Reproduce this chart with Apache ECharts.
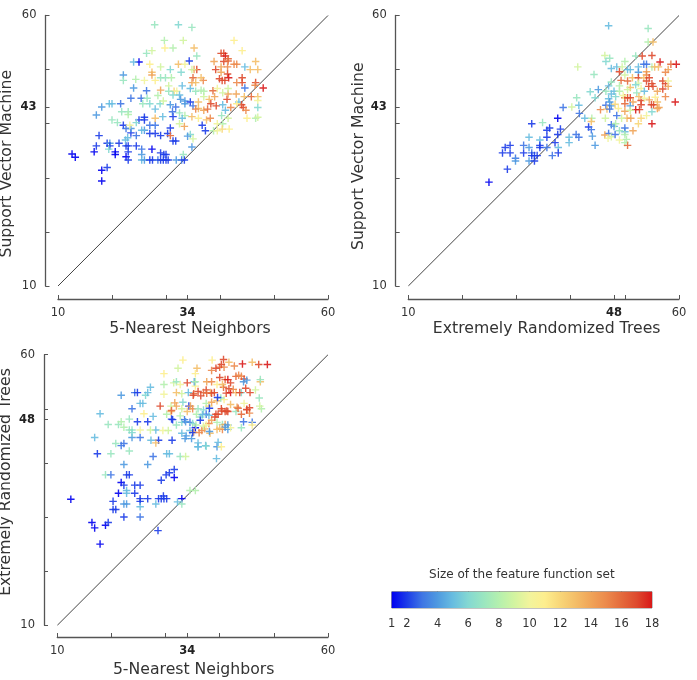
<!DOCTYPE html>
<html>
<head>
<meta charset="utf-8">
<style>html,body{margin:0;padding:0;background:#fff}#chart{width:697px;height:680px}</style>
<script src="https://cdn.jsdelivr.net/npm/echarts@6/dist/echarts.min.js"></script>
</head>
<body>
<div id="chart"></div>
<script>
// Each run: [first classifier score, second classifier score, feature set size]
const knnVsSvm = [
[12.6,34.4,1],[13.2,33.8,1],[16.7,34.8,1],[17.1,35.9,2],[17.6,37.8,2],[18.1,31.4,1],[19.1,31.9,2],[18.1,29.4,1],
[19.1,36.4,2],[19.6,36.4,4],[19.6,35.9,2],[20.6,34.8,1],[20.6,34.3,1],[19.4,35.3,6],[21.3,36.4,2],[22.6,35.9,2],[23,35.9,2],[23,34.8,2],
[22.6,33.9,1],[23,33.3,2],[24.5,35.9,2],[25.5,35.3,3],[25.5,34.3,4],[23.5,38.3,2],[24.5,37.8,3],[22.1,39.7,2],[22.6,39.1,3],[23.5,39.1,4],
[25,40.7,2],[26,41.2,2],[26,40.7,2],[27,39.7,3],[28,39.7,3],[27,38.2,2],[28,38.2,2],[29,37.8,2],[26,38.8,4],[25.5,38.8,5],[27.4,35.3,1],
[29,34.6,2],[29.6,34.3,2],[30,34.3,2],[25.5,33.3,5],[26,33.3,4],[27,33.3,2],[27.5,33.3,2],[28.5,33.3,3],[29,33.3,2],[29.5,33.3,2],[30,33.3,2],[30.4,33.3,2],
[31.9,33.3,4],[32.9,33.3,3],[33.4,33.3,2],[30.3,38.2,2],[30.8,39.2,2],[31.3,36.8,2],[31.8,36.8,2],[31.3,41.3,2],[31.2,42.2,3],[31.8,43.1,3],
[23.5,44.7,3],[25.4,44.7,3],[21.6,43.7,3],[25,51.4,1],[34.3,51.6,2],[37.3,38.7,2],[36.7,39.7,2],[44.6,46.6,3],[24,51.4,5],[22.1,49,4],[22.1,48,7],
[24,46.6,4],[26.4,46.1,3],[18.1,43.1,4],[17.1,41.6,4],[19.5,43.7,5],[20,43.7,5],[20,40.7,7],[21,40.2,7],[21.8,42.2,7],[23,42.2,7],[23,41.7,8],[24.5,40.2,6],
[23.3,39.7,10],[22.5,37,5],[22.9,37.4,5],[29.4,41.3,5],[28,42.7,5],[28.9,43.7,6],[27,43.7,6],[26.5,44.7,7],[25.7,43.7,7],[28.5,45.2,8],[29.5,44.2,9],
[27.9,58.3,7],[32.3,58.3,6],[34.8,57.8,7],[29.7,55.4,8],[33.2,55.4,9],[42.6,55.4,11],[29.8,54,11],[31.3,54,8],[35.2,54,13],[26.4,53,7],[27.4,53.5,9],[44.1,53.5,11],
[35.7,52.5,7],[40.2,53,17],[40.7,53,17],[41,52.5,18],[41.5,52,16],[40.7,51.5,17],[41.5,51.6,16],[38.9,51.5,14],[42.6,51,15],[43.1,51,15],[46.6,51.5,13],[44.6,50.5,5],
[45.6,50,13],[47,50,13],[39.2,50,17],[40.2,50.5,14],[41.4,50.5,15],[40.2,49.5,14],[41.4,49.2,17],[39.9,48.3,17],[40.4,48,17],[41.6,48.5,18],[40.9,48,17],[44.1,48.5,17],
[44.1,47.6,17],[43.1,47.6,15],[46.6,47.6,17],[46.5,47.1,15],[48,46.6,18],[38.7,46.1,16],[35.7,50,17],[35.2,50,14],[35,48.5,16],[36.9,48,15],[34.8,47.6,14],[35.5,47.6,13],
[36.5,48.5,13],[32.3,51,13],[27.4,49.5,13],[27.4,49,14],[30.8,50,6],[32.8,49.5,6],[29,48.5,7],[29.9,48.5,7],[31,48.5,8],[33.5,51,10],[34.8,50,9],[29,50.5,9],[27,51,11],
[24.4,48.2,8],[26,48,10],[28,48,11],[30.5,47,9],[31.5,46,12],[29,46.2,14],[30.5,46,7],[32,46,10],[33,47,5],[34.5,46.5,5],[35.5,46,7],[36.5,46.2,8],[32.5,45.3,5],[33.5,44.2,4],
[32.7,44.5,4],[33.5,43.7,4],[34.5,44,2],[35,43.3,3],[36,42.8,13],[35.5,42.7,15],[37,42.5,14],[37.7,42.7,16],[38.3,43.7,17],[39.3,43.3,17],[40.5,43.5,5],[41.3,44.5,17],[41.5,45.5,14],
[42,43,15],[43,45.5,14],[44.5,45,13],[43.5,44,5],[44,43.5,17],[44.3,43,17],[44.8,42.5,15],[45.8,45,16],[47,45,13],[47,44.3,10],[47,43,6],[46.6,41,8],[47,41.2,9],[40.3,41.5,7],[41.5,41,9],
[39.5,40,10],[40.5,40,8],[37.5,40.7,13],[38.2,41,15],[36,41,11],[34.8,41.3,13],[33.5,41.5,8],[33,41,5],[33.4,39.5,14],[32.5,40,9],[30.8,37.8,16],[34.5,38,6],[34,37.7,4],[35,37.2,9],
[34.8,35.7,4],[33.2,34.3,7],[37,45,9],[38,44.5,13],[39,45,14],[37,46,8],[39.5,46.5,10],[40.5,45.7,9],[41.5,46.5,9],[43.1,43.7,11],[41.7,39,11],[38.8,38.7,8],[39.5,38.7,10],
[40.4,39,12],[45,41,11],[30.8,43.5,4],[31.3,45.3,6],[28,41,13],[32.5,42,7],[36,44,13],[41,42.5,5]
];

const ertVsSvm = [
[24.9,29.2,1],[28.3,31.6,2],[27.4,34.6,2],[27.9,35.6,2],[28.8,36,2],[28.8,34.6,2],[29.8,33.6,3],[29.8,33.1,4],[31.3,36,3],[31.3,34.6,2],[32.3,35.6,4],[32.3,37.5,5],[32.3,33.1,4],
[32.8,40,2],[32.8,34.6,3],[32.8,34.1,2],[33.3,34.1,2],[33.8,34.1,2],[33.3,33.1,2],[34.3,37,5],[34.3,36,2],[34.3,35.6,2],[34.8,40.2,7],[35.6,37.5,2],[35.6,35.6,3],[35.6,38.8,2],
[36.1,39.2,2],[36.6,34.1,3],[37.1,36.5,2],[37.6,41,1],[37.6,38,2],[37.7,35.6,5],[37.7,34.6,2],[38.1,39,2],[38.6,43,3],[39.7,37.5,5],[39.7,36.5,5],[41,38,3],[41.5,37.5,3],
[41.1,44.8,7],[40.2,43.1,9],[41.5,43.4,5],[41.6,41.9,3],[42.6,41,5],[43.6,45.9,6],[45.1,46.3,4],[43.3,39.4,2],[43.8,38.9,3],[44,37.7,4],[44.5,36,4],[43.9,41,8],[43.8,40.4,13],
[44.5,44.8,6],[44.3,49.1,7],[41.3,50.5,9],[47,58.1,5],[54.3,57.6,7],[54.3,55.1,8],[55.2,55.1,13],[46.3,52.6,9],[46.5,51.5,6],[47.2,52.1,7],[50,51.5,8],[52,52.5,7],[53.2,52.5,17],
[55,52.6,17],[55,50.5,8],[56.5,51.4,18],[55.5,50.5,13],[56.2,50.5,13],[58.5,51,16],[59.5,51,18],[58,50,14],[57.5,49.5,15],[47.5,50.2,5],[48.5,50.5,5],[49.5,50.5,9],[50.5,50,5],[51,50,5],
[52.5,50.5,5],[53.5,51,3],[54,51,3],[49,49.6,17],[50,49,9],[52.5,49.5,4],[54,49.6,14],[54,49,15],[50.5,47.9,16],[49.3,48,16],[51.4,48.5,13],[52.5,48.5,17],[53.5,48.5,13],
[54,47.9,17],[54.5,48.5,17],[55,47.4,17],[55.2,46.9,17],[54.4,46.9,17],[57,47.9,17],[57.5,47.4,17],[57,46.4,17],[58,46.9,14],[56,46,14],[58,47.9,10],[52.5,47.5,9],[53,46.5,10],
[53.6,46,5],[51,46.7,13],[49,47,8],[47,47,5],[46.5,46,7],[48,46,5],[47.5,45.5,5],[47,44.6,5],[48.3,45,6],[50,44.8,16],[50.5,44.8,17],[51,44.8,17],[50,43.7,16],[51.5,44,14],
[52.2,45.7,7],[52.6,45,13],[53,44.3,17],[53,43.5,17],[52.7,42.6,17],[52,42.6,18],[54.9,43.5,17],[55.3,43.5,17],[54.5,44.4,14],[56.3,43,14],[57.5,45,15],[59.3,44,18],[47.2,44,4],
[46.5,43.4,3],[47.5,43.3,4],[45.5,42.6,15],[46.7,42.7,13],[47.2,42.7,3],[48.2,43.6,12],[48.8,42.8,11],[50,42.3,14],[51,43.3,4],[50.4,41,13],[51.1,41,14],[48.5,41.5,3],[49.4,41,9],
[47.5,39.8,3],[48,39.5,4],[50,38.5,5],[50,39.2,3],[49,38.7,7],[47,38.2,3],[47.5,37.6,9],[48.2,38,3],[49,37,10],[50,36.5,8],[50.5,36,16],[51.5,38.7,14],[52.5,40,12],[50,38,8],[50.3,37.1,8],
[46.3,37.9,14],[46.9,37.3,10],[55,40,18],[47.5,47.7,7],[49,46,8],[49.7,45.2,10],[50.5,46.3,9],[52,47.2,6],[55.6,44.9,11],[56,44,13],[53.6,44.7,10],[55,42.2,6],[46.4,41,9],[48.3,40,8],[51,42.5,9],
[56,42.8,14],[54,41.5,10],[53,41,12]
];

const knnVsErt = [
[12.5,33.3,1],[16.4,29,1],[16.9,28,1],[17.9,25,1],[18.9,28.5,1],[19.4,29,2],[22.3,30,2],[20.3,31.4,2],[20.8,31.4,2],[20.3,32.9,2],[21.3,34.4,1],[21.8,36.4,1],[22.3,35.9,2],[22.8,34.9,5],[22.8,34.4,5],
[22.3,32.4,4],[22.8,32.4,4],[24.3,34.4,2],[24.3,35.9,2],[25.3,35.9,2],[25.3,33.4,2],[25.3,32.9,2],[25.3,31.9,5],[25.3,30,3],[26.7,33.4,2],[28.2,32.4,5],[28.7,33.4,2],[29.2,33.4,2],[29.6,33.9,2],
[29.7,33.4,2],[30.2,33.4,2],[28.6,27.5,2],[29.2,36.8,2],[30.1,37.8,2],[30.7,38.2,2],[31.6,38.8,2],[31.6,37.3,1],[32.2,32.8,5],[33,33.4,1],[33,32.4,7],[34.5,34.9,8],[35.5,34.9,8],[39.4,40.8,5],
[18.9,37.8,7],[19.9,37.8,3],[22.8,37.8,2],[23.3,37.8,2],[22.3,39.7,4],[26.7,39.7,4],[27.7,41.2,3],[19.9,41.7,7],[17.4,41.7,2],[16.9,44.7,5],[17.9,49.1,5],[19.4,47.1,7],[20.8,43.6,7],[21.8,43.2,3],
[22.3,43.6,3],[23.3,42.2,7],[23.8,44.7,4],[25.3,44.7,3],[27.3,44.2,5],[28.7,44.2,2],[28.2,43.7,13],[31.2,44.2,2],[30.2,41.7,5],[30.7,41.7,5],[32.7,41.2,7],[33.7,41.2,9],[21.8,52.5,4],[24.3,53,3],
[24.8,53,2],[23.8,50,3],[25.3,51,5],[25.8,51,5],[26.3,52.5,6],[26.7,53,5],[27.2,54,5],[24.8,47.6,2],[26.7,47.6,2],[23.3,48.1,7],[21.3,47.1,7],[21.8,47.6,8],[22.3,46.6,8],[23.3,46.1,7],[23.8,46.1,7],[25.3,46.1,10],
[26,49.1,11],[27.7,48.6,5],[28.2,46.1,5],[27.2,46.1,9],[23.8,45.6,6],[29.5,46,10],[30.5,46,9],[32,47,7],[33,47.5,6],[33.5,48,3],[34.5,47.5,3],[35.5,46.5,1],[34.5,46,5],[33,45.5,5],[33.8,45,4],[34.8,44.5,4],
[35.2,45.7,14],[36.7,46,15],[37.2,46.3,14],[38.2,45.5,13],[36,43.7,5],[36,43,5],[37.4,43.2,5],[39.5,43,4],[39.7,43.8,5],[40.3,43,11],[31.3,48,2],[30.2,49,8],[31,49.5,13],[32,50.5,14],[33.2,51.2,6],[34.3,50.5,2],
[35,50,15],[34,49.5,13],[35.7,49,8],[37,49.8,6],[37.5,49,3],[36.5,48.5,7],[38,47.3,15],[38.5,47.9,14],[38,48.8,5],[39.5,47.5,8],[40.5,47.1,7],[41,47.1,14],[39.5,46.2,13],[40.5,46.2,15],[41.5,46.2,4],
[39.3,49,17],[40.3,50,17],[41,49.5,17],[41.5,49.5,17],[43,49.5,7],[44,49,16],[45.5,49.2,15],[45,49.9,17],[45.5,50.2,17],[43.2,50.3,14],[41.5,47,4],[42,46.5,10],[44,46.5,7],[46,47.5,3],[46,47,11],
[47.7,50,8],[47.4,50.5,9],[47.3,52,7],[44.5,51,10],[42,50.8,13],[40.8,51.7,11],[39.5,51.5,13],[38.5,51.2,14],[37.5,51,8],[35.5,54.2,11],[37.5,53.5,17],[38.3,53,13],[39,53,17],[40.2,52,7],[41.2,52.9,17],[42,53,18],
[41.7,53.7,17],[40.7,54,16],[44.8,53.8,17],[44,53,6],[43,53,13],[36,53.2,17],[35.2,52.8,16],[37,53,16],[35.3,55,4],[34,54.8,17],[35.5,55,8],[37.6,55,14],[34.2,53,5],[38.5,55,15],[39.5,54.5,11],[40.5,54.5,13],
[40,55.8,17],[41,55.4,16],[41.5,55.4,18],[42,54.8,17],[42.5,53.6,15],[43,56,16],[43.5,56.2,15],[44,56,15],[44.5,55.5,17],[45,55.3,4],[47.5,55,13],[47.5,55.4,7],[46.6,53.5,9],[40,57.7,16],[40.8,57.7,15],[42.7,57.9,15],
[44.2,58.3,18],[46,58.6,13],[47.2,58.2,17],[48.8,58.2,18],[40.3,58.2,17],[40.7,59.1,17],[39.3,57.5,17],[38.5,57.1,15],[41.7,58.6,13],[35.8,57.5,13],[35.5,56.5,11],[32.3,57.5,9],[33.2,59,11],[38.6,59,11],[29.7,56.5,11],
[31.5,54.8,9],[29.7,54.5,8],[29.7,52.7,10],[32,55,7],[32.7,54.5,10],[33,52.8,9],[32,53,13],[31,50.5,9],[38,50.5,12],
[35.1,52.5,17],[36.5,52.4,17],[37.6,52.9,16],[38.5,52.9,17],[39.1,48.5,17],[39.7,49,17],[40.4,49.6,17],[41.3,49.6,17],[31.1,49.7,16],[31.7,51.1,14],[29,50.5,17],[34.6,50.5,14],
[38.1,50.1,2],[39.6,52.1,2],[31.1,48.1,2],[33.7,47.6,4],[35,45.6,2],[36.4,47.9,2],[38.1,45.8,4],[41,46.6,4],[44.4,47.6,3],[44.4,55,4],[35,47.3,6],[36,43,5],[37.5,43.1,6],[33.6,44.5,4],
[45.6,53,17],[43.7,53,17],[45,49.8,17],[43.4,50.1,16],[40,46.4,13],[36.2,45.6,15],[37,46.8,9],[35.6,47,8],[36.8,48.9,5],[37.5,47,10],[36,50,7],[33,50,9],[32.7,48.7,8]
];

const sizeTicks = [1, 2, 4, 6, 8, 10, 12, 14, 16, 18];
const sizeColors = ['#0000f0', '#1c3ce8', '#3f76e4', '#4f9ae0', '#68bde0', '#84d8d2', '#9ae6c0', '#b4f0ae', '#d2f4a0', '#f2f49c', '#fdee8e', '#f8d678', '#f4be68', '#f0a458', '#ec8a4c', '#e46a3c', '#de4a2e', '#d81818'];
const sizeBandStops = [1, 18];
const diagonal = [[10, 10], [60, 60]];

const AXIS_COLOR = '#555';
const TEXT_COLOR = '#333';
const FONT = '"DejaVu Sans", sans-serif';
const plusSymbol = 'path://M3.25 0H4.75V3.25H8V4.75H4.75V8H3.25V4.75H0V3.25H3.25Z';

// Value axis with the highlighted best score shown in bold
function scoreAxis(pos, gridIndex, name, best, minorTicks, offset, padding, nameGap) {
  const isX = pos === 'bottom';
  return {
    type: 'value', gridIndex, position: pos, min: 10, max: 60, offset, name,
    nameLocation: 'middle', nameGap,
    nameTextStyle: { color: TEXT_COLOR, fontFamily: FONT, fontSize: 15.7, padding },
    splitLine: { show: false },
    axisLine: { show: true, onZero: false, lineStyle: { color: AXIS_COLOR, width: 1.3 } },
    axisTick: { show: true, inside: true, length: 4, customValues: minorTicks, lineStyle: { color: AXIS_COLOR, width: 1 } },
    axisLabel: {
      customValues: [10, best, 60], margin: isX ? 8 : 9, color: TEXT_COLOR, fontFamily: FONT, fontSize: 11.5,
      formatter: v => (v === best ? '{b|' + v + '}' : '' + v),
      rich: { b: { fontWeight: 'bold', color: '#222', fontFamily: FONT, fontSize: 11.5 } }
    }
  };
}

function pointsSeries(data, idx) {
  return {
    type: 'scatter', data, xAxisIndex: idx, yAxisIndex: idx, symbol: plusSymbol, symbolSize: 7.5,
    itemStyle: { opacity: 0.9 }, silent: true, animation: false, z: 3
  };
}

function diagonalSeries(idx) {
  return {
    type: 'line', data: diagonal, xAxisIndex: idx, yAxisIndex: idx, showSymbol: false, silent: true,
    animation: false, lineStyle: { color: '#444', width: 1 }, z: 2
  };
}

const chart = echarts.init(document.getElementById('chart'), null, { renderer: 'canvas' });
const lastSize = sizeBandStops[1], firstSize = sizeBandStops[0];

chart.setOption({
  animation: false,
  backgroundColor: '#fff',
  grid: [
    { left: 58, top: 15.5, width: 270, height: 270.5, outerBoundsMode: 'none' },
    { left: 408.3, top: 15.5, width: 270.7, height: 270.5, outerBoundsMode: 'none' },
    { left: 57.3, top: 354.7, width: 270.7, height: 270.6, outerBoundsMode: 'none' },
    { left: 391.7, top: 591.7, width: 260.3, height: 16.3, show: true, borderColor: '#888', borderWidth: 1, backgroundColor: 'transparent', outerBoundsMode: 'none' }
  ],
  xAxis: [
    scoreAxis('bottom', 0, '5-Nearest Neighbors', 34, [10, 20, 30, 34, 40, 50, 60], 13, [0, 6, 0, 0], 22),
    scoreAxis('bottom', 1, 'Extremely Randomized Trees', 48, [10, 20, 30, 40, 48, 50, 60], 13, [0, 0, 0, 6], 22),
    scoreAxis('bottom', 2, '5-Nearest Neighbors', 34, [10, 20, 30, 34, 40, 50, 60], 11.7, [0, 0, 0, 2], 25),
    {
      type: 'value', gridIndex: 3, min: firstSize, max: lastSize, position: 'bottom',
      splitLine: { show: false }, axisLine: { show: false },
      axisTick: { show: true, inside: true, length: 3, customValues: sizeTicks.slice(1, -1), lineStyle: { color: '#555' } },
      axisLabel: { customValues: sizeTicks, margin: 10, color: TEXT_COLOR, fontFamily: FONT, fontSize: 11.5 }
    },
    {
      type: 'value', gridIndex: 3, min: firstSize, max: lastSize, position: 'top',
      name: 'Size of the feature function set', nameLocation: 'middle', nameGap: 11,
      nameTextStyle: { color: TEXT_COLOR, fontFamily: FONT, fontSize: 12 },
      splitLine: { show: false }, axisLine: { show: false }, axisLabel: { show: false },
      axisTick: { show: true, inside: true, length: 3, customValues: sizeTicks.slice(1, -1), lineStyle: { color: '#555' } }
    }
  ],
  yAxis: [
    scoreAxis('left', 0, 'Support Vector Machine', 43, [10, 20, 30, 40, 43, 50, 60], 12.5, [0, 26, 0, 0], 31),
    scoreAxis('left', 1, 'Support Vector Machine', 43, [10, 20, 30, 40, 43, 50, 60], 12.6, [0, 11, 0, 0], 27),
    scoreAxis('left', 2, 'Extremely Randomized Trees', 48, [10, 20, 30, 40, 48, 50, 60], 13.3, [0, 0, 0, 16], 30),
    { type: 'value', gridIndex: 3, min: 0, max: 1, show: false }
  ],
  visualMap: [{
    type: 'continuous', show: false, seriesIndex: [0, 1, 2], dimension: 2,
    min: firstSize, max: lastSize, inRange: { color: sizeColors }
  }],
  series: [
    pointsSeries(knnVsSvm, 0),
    pointsSeries(ertVsSvm, 1),
    pointsSeries(knnVsErt, 2),
    diagonalSeries(0),
    diagonalSeries(1),
    diagonalSeries(2),
    {
      // Continuous colour scale for the feature set size
      type: 'custom', xAxisIndex: 3, yAxisIndex: 3, silent: true, animation: false, z: 1,
      data: [[firstSize, lastSize]],
      encode: { x: [0, 1] },
      renderItem: (params, api) => {
        const a = api.coord([api.value(0), 0]);
        const b = api.coord([api.value(1), 1]);
        return {
          type: 'rect',
          shape: { x: a[0], y: b[1], width: b[0] - a[0], height: a[1] - b[1] },
          style: {
            fill: new echarts.graphic.LinearGradient(0, 0, 1, 0,
              sizeColors.map((c, i) => ({ offset: i / (sizeColors.length - 1), color: c })))
          }
        };
      }
    }
  ]
});
</script>
</body>
</html>
